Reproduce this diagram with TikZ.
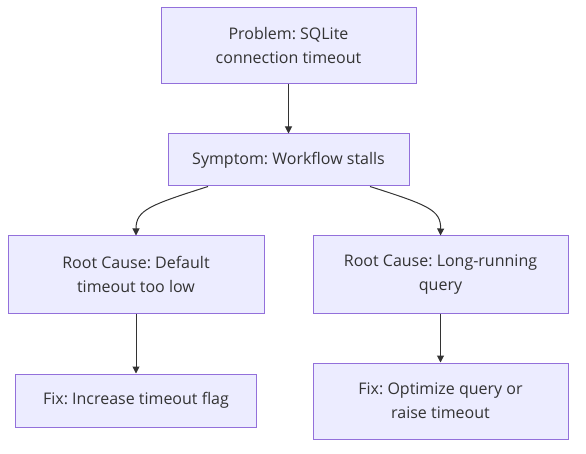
\documentclass[tikz,border=0pt]{standalone}
\usepackage{fontspec}
\setmainfont{Open Sans}
\usetikzlibrary{arrows.meta}
\definecolor{boxfill}{HTML}{ECECFF}
\definecolor{boxline}{HTML}{9370DB}
\definecolor{edge}{HTML}{333333}
\frenchspacing
\begin{document}
\begin{tikzpicture}[x=1pt,y=-1pt,
  box/.style={draw=boxline,fill=boxfill,line width=1pt,align=center,inner sep=0pt,
    font=\fontsize{16pt}{24pt}\selectfont,text=edge},
  link/.style={draw=edge,line width=1pt,-{Triangle[length=7pt,width=7pt]}}]
\useasboundingbox (0,0) rectangle (586,454);
\node[box,minimum width=255pt,minimum height=76pt] (prob) at (288.5,46) {Problem: SQLite\\connection timeout};
\node[box,minimum width=241pt,minimum height=52pt] (symp) at (288.5,160) {Symptom: Workflow stalls};
\node[box,minimum width=256pt,minimum height=77pt] (rcdef) at (136,274.5) {Root Cause: Default\\timeout too low};
\node[box,minimum width=255pt,minimum height=77pt] (rclong) at (440.5,274.5) {Root Cause: Long-running\\query};
\node[box,minimum width=241pt,minimum height=53pt] (fixinc) at (136,400.5) {Fix: Increase timeout flag};
\node[box,minimum width=255pt,minimum height=76pt] (fixopt) at (440.5,401) {Fix: Optimize query or\\raise timeout};
\draw[link] (prob) -- (symp);
\draw[link] (symp.south -| 208,0) .. controls (150,205) and (136,210) .. (rcdef.north);
\draw[link] (symp.south -| 370,0) .. controls (428,205) and (441,210) .. (rclong.north);
\draw[link] (rcdef) -- (fixinc);
\draw[link] (rclong) -- (fixopt);
\end{tikzpicture}
\end{document}
